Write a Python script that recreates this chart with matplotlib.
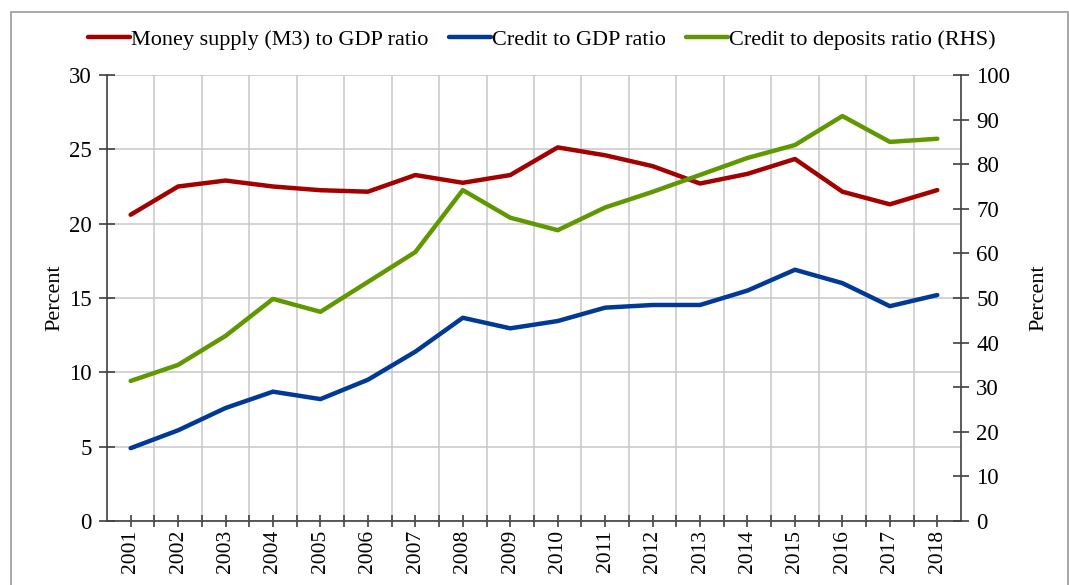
import matplotlib
matplotlib.use("Agg")
import matplotlib.pyplot as plt
from matplotlib.patches import Rectangle

plt.rcParams['font.family'] = ['Liberation Serif', 'DejaVu Serif']

years = [str(y) for y in range(2001, 2019)]
m3_gdp = [20.6, 22.5, 22.9, 22.5, 22.25, 22.15, 23.27, 22.75, 23.27, 25.13,
          24.6, 23.87, 22.7, 23.35, 24.35, 22.15, 21.3, 22.26]
credit_gdp = [4.9, 6.1, 7.6, 8.7, 8.2, 9.5, 11.39, 13.67, 12.96, 13.45,
              14.35, 14.53, 14.53, 15.5, 16.9, 16.0, 14.45, 15.2]
credit_deposits = [31.4, 35.0, 41.5, 49.8, 46.9, 53.6, 60.3, 74.2, 68.0, 65.2,
                   70.3, 73.8, 77.6, 81.4, 84.3, 90.8, 85.0, 85.7]

red = '#a30000'
blue = '#003a96'
green = '#5f9800'

fig = plt.figure(figsize=(10.69, 5.85), dpi=100)
ax = fig.add_axes([0.100, 0.1094, 0.799, 0.7624])
ax2 = ax.twinx()

x = list(range(len(years)))
l1, = ax.plot(x, m3_gdp, color=red, lw=3.2, solid_capstyle='round', zorder=3)
l2, = ax.plot(x, credit_gdp, color=blue, lw=3.2, solid_capstyle='round', zorder=3)
l3, = ax2.plot(x, credit_deposits, color=green, lw=3.2, solid_capstyle='round', zorder=3)

ax.set_xlim(-0.5, len(years) - 0.5)
ax.set_ylim(0, 30)
ax2.set_ylim(0, 100)
ax.set_yticks(range(0, 31, 5))
ax2.set_yticks(range(0, 101, 10))
ax.set_xticks(x)
ax.set_xticklabels(years, rotation=90)
ax.set_xticks([i + 0.5 for i in range(len(years) - 1)], minor=True)

# grid: horizontal on left ticks, vertical between categories
ax.grid(axis='y', color='#c8c8c8', lw=1.1, zorder=0)
ax.grid(axis='x', which='minor', color='#c8c8c8', lw=1.1, zorder=0)
ax.set_axisbelow(True)

for a in (ax, ax2):
    a.spines['top'].set_visible(False)
    for s in a.spines.values():
        s.set_color('#404040')
        s.set_linewidth(1.2)
ax.spines['right'].set_visible(False)
ax2.spines['left'].set_visible(False)
ax2.spines['bottom'].set_visible(False)

ax.tick_params(axis='y', direction='inout', length=12, width=1.2, color='#404040',
               labelsize=16.5, pad=5)
ax2.tick_params(axis='y', direction='inout', length=12, width=1.2, color='#404040',
                labelsize=16.5, pad=5)
ax.tick_params(axis='x', which='both', direction='inout', length=9, width=1.2,
               color='#404040', labelsize=15.5, pad=2)

ax.set_ylabel('Percent', fontsize=16, labelpad=3)
ax2.set_ylabel('Percent', fontsize=16, labelpad=14)

fig.legend([l1, l2, l3],
           ['Money supply (M3) to GDP ratio', 'Credit to GDP ratio',
            'Credit to deposits ratio (RHS)'],
           loc='center', bbox_to_anchor=(0.507, 0.932), ncol=3, frameon=False,
           fontsize=16, handlelength=1.9, handletextpad=0.05, columnspacing=0.9)

# thin frame around the figure
fig.patches.append(Rectangle((11 / 1069, -0.05), 1057 / 1069, 1.04 - 6 / 585,
                             transform=fig.transFigure, fill=False,
                             edgecolor='#999999', lw=1.2))

fig.savefig('out.png', dpi=100)
